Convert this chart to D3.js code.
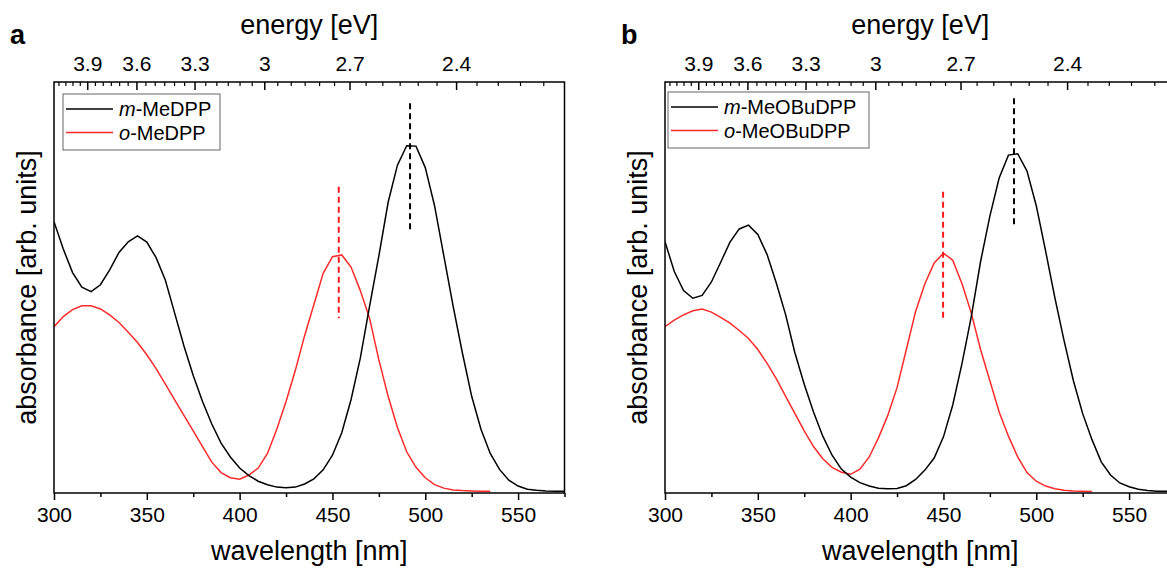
<!DOCTYPE html>
<html>
<head>
<meta charset="utf-8">
<script src="https://cdn.jsdelivr.net/npm/d3@7"></script>
<style>
  body { margin: 0; background: #fff; }
  svg { display: block; }
  text { font-family: Arial, "Liberation Sans", sans-serif; fill: #000; }
</style>
</head>
<body>
<svg id="chart" width="1167" height="572"></svg>
<script>
// ---- data ----
const wlTicks = [300, 350, 400, 450, 500, 550];
const wlMinor = [325, 375, 425, 475, 525, 575];
const energyTicks = [3.9, 3.6, 3.3, 3.0, 2.7, 2.4];
const energyLabels = ['3.9', '3.6', '3.3', '3', '2.7', '2.4'];
const energyMinor = [4.1, 4.05, 4.0, 3.95, 3.85, 3.8, 3.75, 3.7, 3.65, 3.55, 3.5, 3.45, 3.4, 3.35,
  3.25, 3.2, 3.15, 3.1, 3.05, 2.95, 2.9, 2.85, 2.8, 2.75, 2.65, 2.6, 2.55, 2.5, 2.45,
  2.35, 2.3, 2.25, 2.2];

const wlBlack = [300, 305, 310, 315, 320, 325, 330, 335, 340, 345, 350, 355, 360, 365, 370, 375,
  380, 385, 390, 395, 400, 405, 410, 415, 420, 425, 430, 435, 440, 445, 450, 455, 460, 465, 470,
  475, 480, 485, 490, 495, 500, 505, 510, 515, 520, 525, 530, 535, 540, 545, 550, 555, 560, 565,
  570, 575];
const wlRedA = [300, 305, 310, 315, 320, 325, 330, 335, 340, 345, 350, 355, 360, 365, 370, 375,
  380, 385, 390, 395, 400, 405, 410, 415, 420, 425, 430, 435, 440, 445, 450, 455, 460, 465, 470,
  475, 480, 485, 490, 495, 500, 505, 510, 515, 520, 525, 530, 535];
const wlRedB = [300, 305, 310, 315, 320, 325, 330, 335, 340, 345, 350, 355, 360, 365, 370, 375,
  380, 385, 390, 395, 400, 405, 410, 415, 420, 425, 430, 435, 440, 445, 450, 455, 460, 465, 470,
  475, 480, 485, 490, 495, 500, 505, 510, 515, 520, 525, 530];

// panel a
const mMeDPP = [0.779, 0.70, 0.632, 0.59, 0.577, 0.597, 0.64, 0.69, 0.721, 0.738, 0.72, 0.675,
  0.61, 0.515, 0.42, 0.335, 0.26, 0.195, 0.14, 0.10, 0.068, 0.046, 0.03, 0.02, 0.013, 0.011,
  0.013, 0.022, 0.037, 0.063, 0.105, 0.17, 0.265, 0.385, 0.535, 0.68, 0.835, 0.942, 0.998, 0.997,
  0.935, 0.825, 0.68, 0.535, 0.40, 0.275, 0.18, 0.11, 0.064, 0.033, 0.016, 0.007, 0.004, 0.002,
  0.001, 0.001];
const oMeDPP = [0.476, 0.505, 0.525, 0.536, 0.536, 0.527, 0.51, 0.488, 0.46, 0.43, 0.395, 0.355,
  0.31, 0.265, 0.22, 0.175, 0.13, 0.085, 0.055, 0.04, 0.036, 0.048, 0.068, 0.11, 0.18, 0.26,
  0.35, 0.45, 0.54, 0.63, 0.678, 0.683, 0.648, 0.58, 0.50, 0.38, 0.275, 0.185, 0.115, 0.07,
  0.04, 0.02, 0.01, 0.005, 0.003, 0.002, 0.001, 0.001];

// panel b
const mMeOBuDPP = [0.721, 0.635, 0.58, 0.558, 0.566, 0.605, 0.662, 0.72, 0.758, 0.769, 0.742,
  0.684, 0.601, 0.51, 0.40, 0.31, 0.23, 0.16, 0.105, 0.065, 0.042, 0.026, 0.016, 0.01, 0.008,
  0.009, 0.017, 0.035, 0.062, 0.097, 0.158, 0.25, 0.37, 0.505, 0.664, 0.795, 0.905, 0.971,
  0.975, 0.925, 0.825, 0.695, 0.56, 0.435, 0.32, 0.225, 0.15, 0.086, 0.048, 0.025, 0.014,
  0.007, 0.003, 0.001, 0.001, 0.0];
const oMeOBuDPP = [0.476, 0.495, 0.51, 0.522, 0.527, 0.518, 0.503, 0.486, 0.465, 0.442, 0.41,
  0.37, 0.325, 0.275, 0.225, 0.175, 0.13, 0.095, 0.07, 0.056, 0.05, 0.065, 0.10, 0.155, 0.22,
  0.30, 0.41, 0.52, 0.60, 0.66, 0.688, 0.668, 0.60, 0.515, 0.41, 0.32, 0.23, 0.16, 0.10, 0.055,
  0.03, 0.016, 0.008, 0.004, 0.002, 0.001, 0.0];

// peak markers: [wavelength, from, to]
const peakA = { black: [491.8, 0.746, 1.121], red: [453.4, 0.50, 0.88] };
const peakB = { black: [488, 0.761, 1.135], red: [449.8, 0.491, 0.865] };

const HC = 1239.84; // eV*nm

const svg = d3.select('#chart');

const panels = [
  { letter: 'a', left: 54, legendX: 63, legendY: 94, legendW: 157,
    names: ['MeDPP', 'MeDPP'], black: mMeDPP, red: oMeDPP, wlRed: wlRedA, peaks: peakA },
  { letter: 'b', left: 665, legendX: 668, legendY: 92, legendW: 201,
    names: ['MeOBuDPP', 'MeOBuDPP'], black: mMeOBuDPP, red: oMeOBuDPP, wlRed: wlRedB, peaks: peakB }
];

const plotTop = 82, plotBottom = 493, plotW = 510.5;

panels.forEach((p, pi) => drawPanel(p, pi));

function drawPanel(p, pi) {
  const x = d3.scaleLinear().domain([300, 575]).range([p.left, p.left + plotW]);
  const y = d3.scaleLinear().domain([-0.004, 1.182]).range([plotBottom, plotTop]);

  const g = svg.append('g');

  g.append('clipPath').attr('id', 'clip' + pi)
    .append('rect')
    .attr('x', x(300)).attr('y', plotTop)
    .attr('width', plotW).attr('height', plotBottom - plotTop);

  // bottom axis
  const bAxis = g.append('g')
    .attr('transform', `translate(0,${plotBottom})`)
    .call(d3.axisBottom(x).tickValues(wlTicks).tickSize(7).tickPadding(7));
  bAxis.select('.domain').remove();
  bAxis.selectAll('text').attr('font-size', 21).attr('font-family', 'Arial, "Liberation Sans", sans-serif');
  bAxis.selectAll('line').attr('stroke-width', 1.5);

  const bMinor = g.append('g')
    .attr('transform', `translate(0,${plotBottom})`)
    .call(d3.axisBottom(x).tickValues(wlMinor).tickSize(4).tickFormat(''));
  bMinor.select('.domain').remove();
  bMinor.selectAll('line').attr('stroke-width', 1.5);

  // top axis (energy)
  const tAxis = g.append('g')
    .attr('transform', `translate(0,${plotTop})`)
    .call(d3.axisTop(x)
      .tickValues(energyTicks.map(e => HC / e))
      .tickFormat((d, i) => energyLabels[i])
      .tickSizeInner(-8).tickSizeOuter(0).tickPadding(11));
  tAxis.select('.domain').remove();
  tAxis.selectAll('text').attr('font-size', 21).attr('font-family', 'Arial, "Liberation Sans", sans-serif');
  tAxis.selectAll('line').attr('stroke-width', 1.5);

  const tMinor = g.append('g')
    .attr('transform', `translate(0,${plotTop})`)
    .call(d3.axisTop(x)
      .tickValues(energyMinor.map(e => HC / e))
      .tickFormat('').tickSizeInner(-4).tickSizeOuter(0));
  tMinor.select('.domain').remove();
  tMinor.selectAll('line').attr('stroke-width', 1.2);

  // curves
  const line = d3.line().x(d => x(d[0])).y(d => y(d[1]));
  const plot = g.append('g').attr('clip-path', `url(#clip${pi})`);

  plot.append('path')
    .datum(p.wlRed.map((w, i) => [w, p.red[i]]))
    .attr('fill', 'none').attr('stroke', '#ff2a2a').attr('stroke-width', 1.5)
    .attr('d', line);

  plot.append('path')
    .datum(wlBlack.map((w, i) => [w, p.black[i]]))
    .attr('fill', 'none').attr('stroke', '#000').attr('stroke-width', 1.5)
    .attr('d', line);

  // peak markers
  [['black', '#000'], ['red', '#ff1a1a']].forEach(([k, c]) => {
    const m = p.peaks[k];
    plot.append('line')
      .attr('x1', x(m[0])).attr('x2', x(m[0]))
      .attr('y1', y(m[2])).attr('y2', y(m[1]))
      .attr('stroke', c).attr('stroke-width', 2)
      .attr('stroke-dasharray', '6,4');
  });

  // frame
  g.append('rect')
    .attr('x', x(300)).attr('y', plotTop)
    .attr('width', plotW).attr('height', plotBottom - plotTop)
    .attr('fill', 'none').attr('stroke', '#000').attr('stroke-width', 1.5);

  // legend
  const lg = g.append('g');
  lg.append('rect')
    .attr('x', p.legendX).attr('y', p.legendY)
    .attr('width', p.legendW).attr('height', 56)
    .attr('fill', '#fff').attr('stroke', '#666').attr('stroke-width', 1);
  const items = [['m', p.names[0], '#000'], ['o', p.names[1], '#ff2a2a']];
  items.forEach((it, i) => {
    const ly = p.legendY + 15 + i * 23.5;
    lg.append('line')
      .attr('x1', p.legendX + 3).attr('x2', p.legendX + 50)
      .attr('y1', ly).attr('y2', ly)
      .attr('stroke', it[2]).attr('stroke-width', 1.5);
    const t = lg.append('text')
      .attr('x', p.legendX + 56).attr('y', ly + 7)
      .attr('font-size', 20);
    t.append('tspan').attr('font-style', 'italic').text(it[0]);
    t.append('tspan').text('-' + it[1]);
  });

  // titles
  const cx = p.left + plotW / 2;
  g.append('text')
    .attr('x', cx).attr('y', 34)
    .attr('text-anchor', 'middle').attr('font-size', 27)
    .text('energy [eV]');
  g.append('text')
    .attr('x', cx).attr('y', 560)
    .attr('text-anchor', 'middle').attr('font-size', 27)
    .text('wavelength [nm]');
  g.append('text')
    .attr('transform', `translate(${p.left - 18},${(plotTop + plotBottom) / 2}) rotate(-90)`)
    .attr('text-anchor', 'middle').attr('font-size', 27)
    .text('absorbance [arb. units]');
  g.append('text')
    .attr('x', p.left - 44).attr('y', 44)
    .attr('font-size', 27).attr('font-weight', 'bold')
    .text(p.letter);
}
</script>
</body>
</html>
